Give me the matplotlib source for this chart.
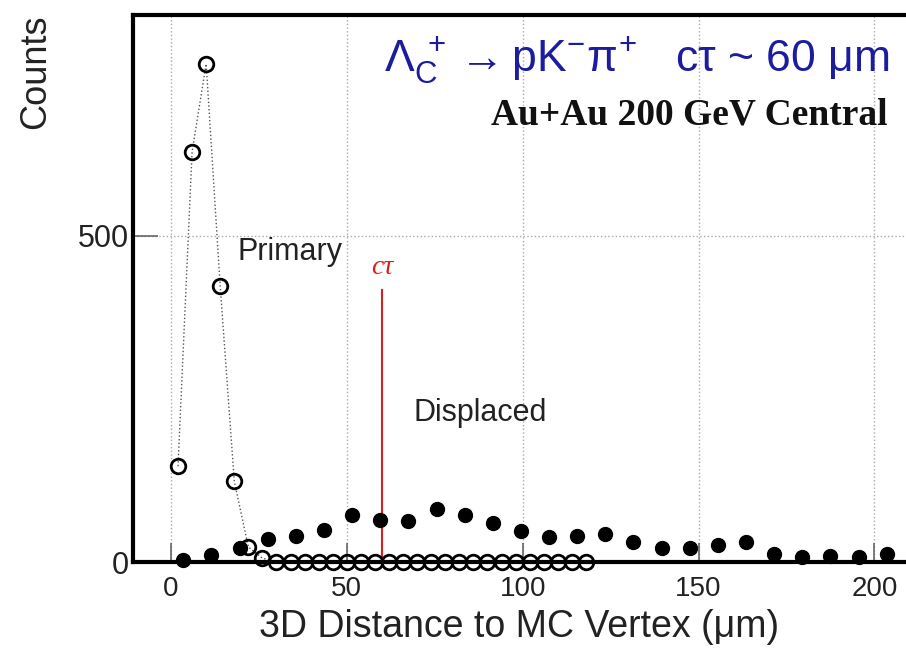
import matplotlib
matplotlib.use("Agg")
import matplotlib.pyplot as plt

plt.rcParams['font.family'] = ['Liberation Sans', 'DejaVu Sans']
plt.rcParams['mathtext.fontset'] = 'custom'
plt.rcParams['mathtext.rm'] = 'Liberation Sans'
plt.rcParams['mathtext.it'] = 'Liberation Sans'
plt.rcParams['mathtext.bf'] = 'Liberation Sans:bold'

# primary vertices (open circles), 4 um bins
primary_x = [2, 6, 10, 14, 18, 22, 26, 30, 34, 38, 42, 46, 50, 54, 58, 62,
             66, 70, 74, 78, 82, 86, 90, 94, 98, 102, 106, 110, 114, 118]
primary_y = [147, 629, 764, 423, 124, 23, 6, 0, 0, 0, 0, 0, 0, 0, 0, 0,
             0, 0, 0, 0, 0, 0, 0, 0, 0, 0, 0, 0, 0, 0]

# displaced vertices (filled circles), 8 um bins
displaced_x = [3.5, 11.5, 19.5, 27.5, 35.5, 43.5, 51.5, 59.5, 67.5, 75.5, 83.5,
               91.5, 99.5, 107.5, 115.5, 123.5, 131.5, 139.5, 147.5, 155.5,
               163.5, 171.5, 179.5, 187.5, 195.5, 203.5]
displaced_y = [3, 11, 21, 35, 40, 49, 72, 64, 63, 81, 72, 60, 48, 38, 40, 43,
               31, 22, 22, 26, 31, 12, 7, 10, 8, 12]
displaced_err = [5, 6, 7, 8, 8, 9, 10, 10, 10, 11, 10, 9, 9, 8, 8, 8,
                 7, 6, 6, 7, 7, 5, 4, 5, 4, 5]

ctau = 60

fig = plt.figure(figsize=(9.06, 6.49), dpi=100)
ax = fig.add_axes([0.1468, 0.134, 0.8532, 0.843])

ax.plot(primary_x, primary_y, linestyle=':', color='#555555', linewidth=1.0, zorder=2)
ax.plot(primary_x, primary_y, linestyle='none', marker='o', markersize=10.5,
        markerfacecolor='none', markeredgecolor='black', markeredgewidth=2.0,
        clip_on=False, zorder=4)
ax.errorbar(displaced_x, displaced_y, yerr=displaced_err, fmt='o', color='black',
            markersize=10, elinewidth=1.5, capsize=0, clip_on=False, zorder=5)

ax.plot([ctau, ctau], [0, 417], color='#d42020', linewidth=1.5, zorder=3)
ax.text(ctau, 452, 'cτ', color='#d42020', fontsize=20, style='italic',
        family=['Liberation Serif'], ha='center', va='center')
ax.text(19, 475, 'Primary', fontsize=22, color='#222222', ha='left', va='center')
ax.text(69, 228, 'Displaced', fontsize=22, color='#222222', ha='left', va='center')

ax.set_xlim(-10.8, 209)
ax.set_ylim(0, 839)
ax.set_xticks([0, 50, 100, 150, 200])
ax.set_yticks([0, 500])
ax.grid(True, linestyle=':', color='#aaaaaa', linewidth=1.0)
ax.tick_params(axis='x', direction='in', length=14, width=1.2, color='#666666',
               labelsize=20, labelcolor='#222222', pad=10)
ax.tick_params(axis='y', direction='in', length=18, width=1.2, color='#666666',
               labelsize=22, labelcolor='#222222', pad=3)

for side in ['top', 'left', 'bottom']:
    ax.spines[side].set_linewidth(3)
    ax.spines[side].set_color('black')
ax.spines['right'].set_visible(False)

ax.set_xlabel('3D Distance to MC Vertex (μm)', fontsize=27, color='#222222', labelpad=5)
ax.set_ylabel('Counts', fontsize=26, color='#222222', loc='top', labelpad=18)

fig.text(0.982, 0.909, r'$\Lambda_{\rm C}^{\ +}\rightarrow{\rm pK}^{-}\pi^{+}$   cτ ~ 60 μm',
         fontsize=32, color='#1c1ca0', ha='right', va='center')
fig.text(0.980, 0.823, 'Au+Au 200 GeV Central', fontsize=27, fontweight='bold',
         family=['Liberation Serif'], color='#111111', ha='right', va='center')

fig.savefig('out.png', dpi=100)
